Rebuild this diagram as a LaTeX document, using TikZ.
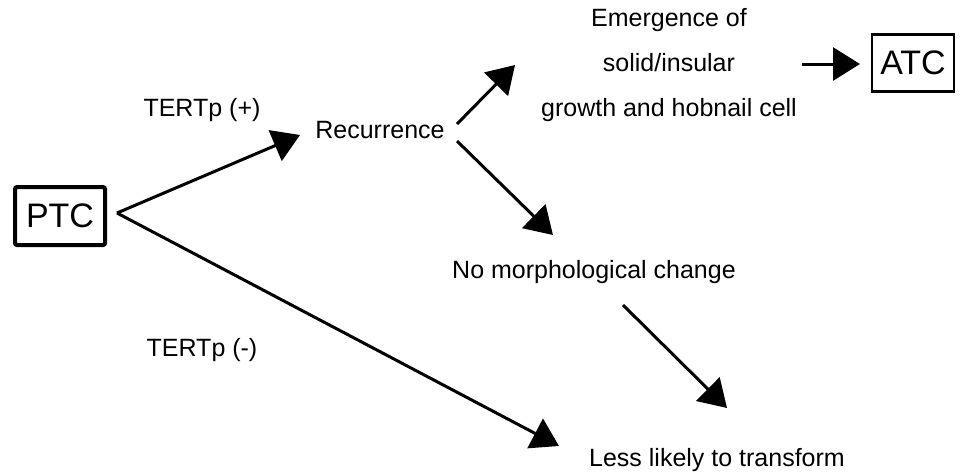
\documentclass[tikz,border=0pt]{standalone}
\usepackage{fontspec}
\setmainfont{Liberation Sans}
\usetikzlibrary{arrows.meta}

\begin{document}
\begin{tikzpicture}[x=0.5pt,y=-0.5pt,
    flow/.style={line width=1.5pt,-{Triangle[length=13.5pt,width=16.5pt]}},
    note/.style={font=\fontsize{12.5}{22.5}\selectfont,inner sep=0,align=center},
    stage/.style={draw,font=\fontsize{17}{20}\selectfont,inner sep=0}]
    \useasboundingbox (0,0) rectangle (966,473);
    % boxes
    \node[stage,line width=2pt,rounded corners=1pt,minimum width=45pt,minimum height=29pt] (ptc) at (60,216) {PTC};
    \node[stage,line width=1.4pt,minimum width=41pt,minimum height=28.6pt] (atc) at (913,63) {ATC};
    % texts
    \node[note] (pos) at (202,110) {TERTp (+)};
    \node[note] (neg) at (202,350) {TERTp (-)};
    \node[note] (rec) at (380,130) {Recurrence};
    \node[note] (emerg) at (669,65) {Emergence of\\solid/insular\\growth and hobnail cell};
    \node[note] (nochange) at (594,272) {No morphological change};
    \node[note] (less) at (717,460) {Less likely to transform};
    % arrow ends
    \coordinate (fork) at ([shift={(10,-3)}]ptc.east);
    \coordinate (recin) at (300,135);
    \coordinate (lessin) at (559,446);
    \coordinate (recup) at (457,124);
    \coordinate (emergin) at (515,65);
    \coordinate (recdown) at (457,141);
    \coordinate (nochangein) at (553,235);
    \coordinate (emergout) at (802,64);
    \coordinate (atcin) at (860,64);
    \coordinate (nochangeout) at (623,305);
    \coordinate (lesstop) at (727,408);
    \draw[flow] (fork) -- (recin);
    \draw[flow] (fork) -- (lessin);
    \draw[flow] (recup) -- (emergin);
    \draw[flow] (recdown) -- (nochangein);
    \draw[flow] (emergout) -- (atcin);
    \draw[flow] (nochangeout) -- (lesstop);
\end{tikzpicture}
\end{document}
